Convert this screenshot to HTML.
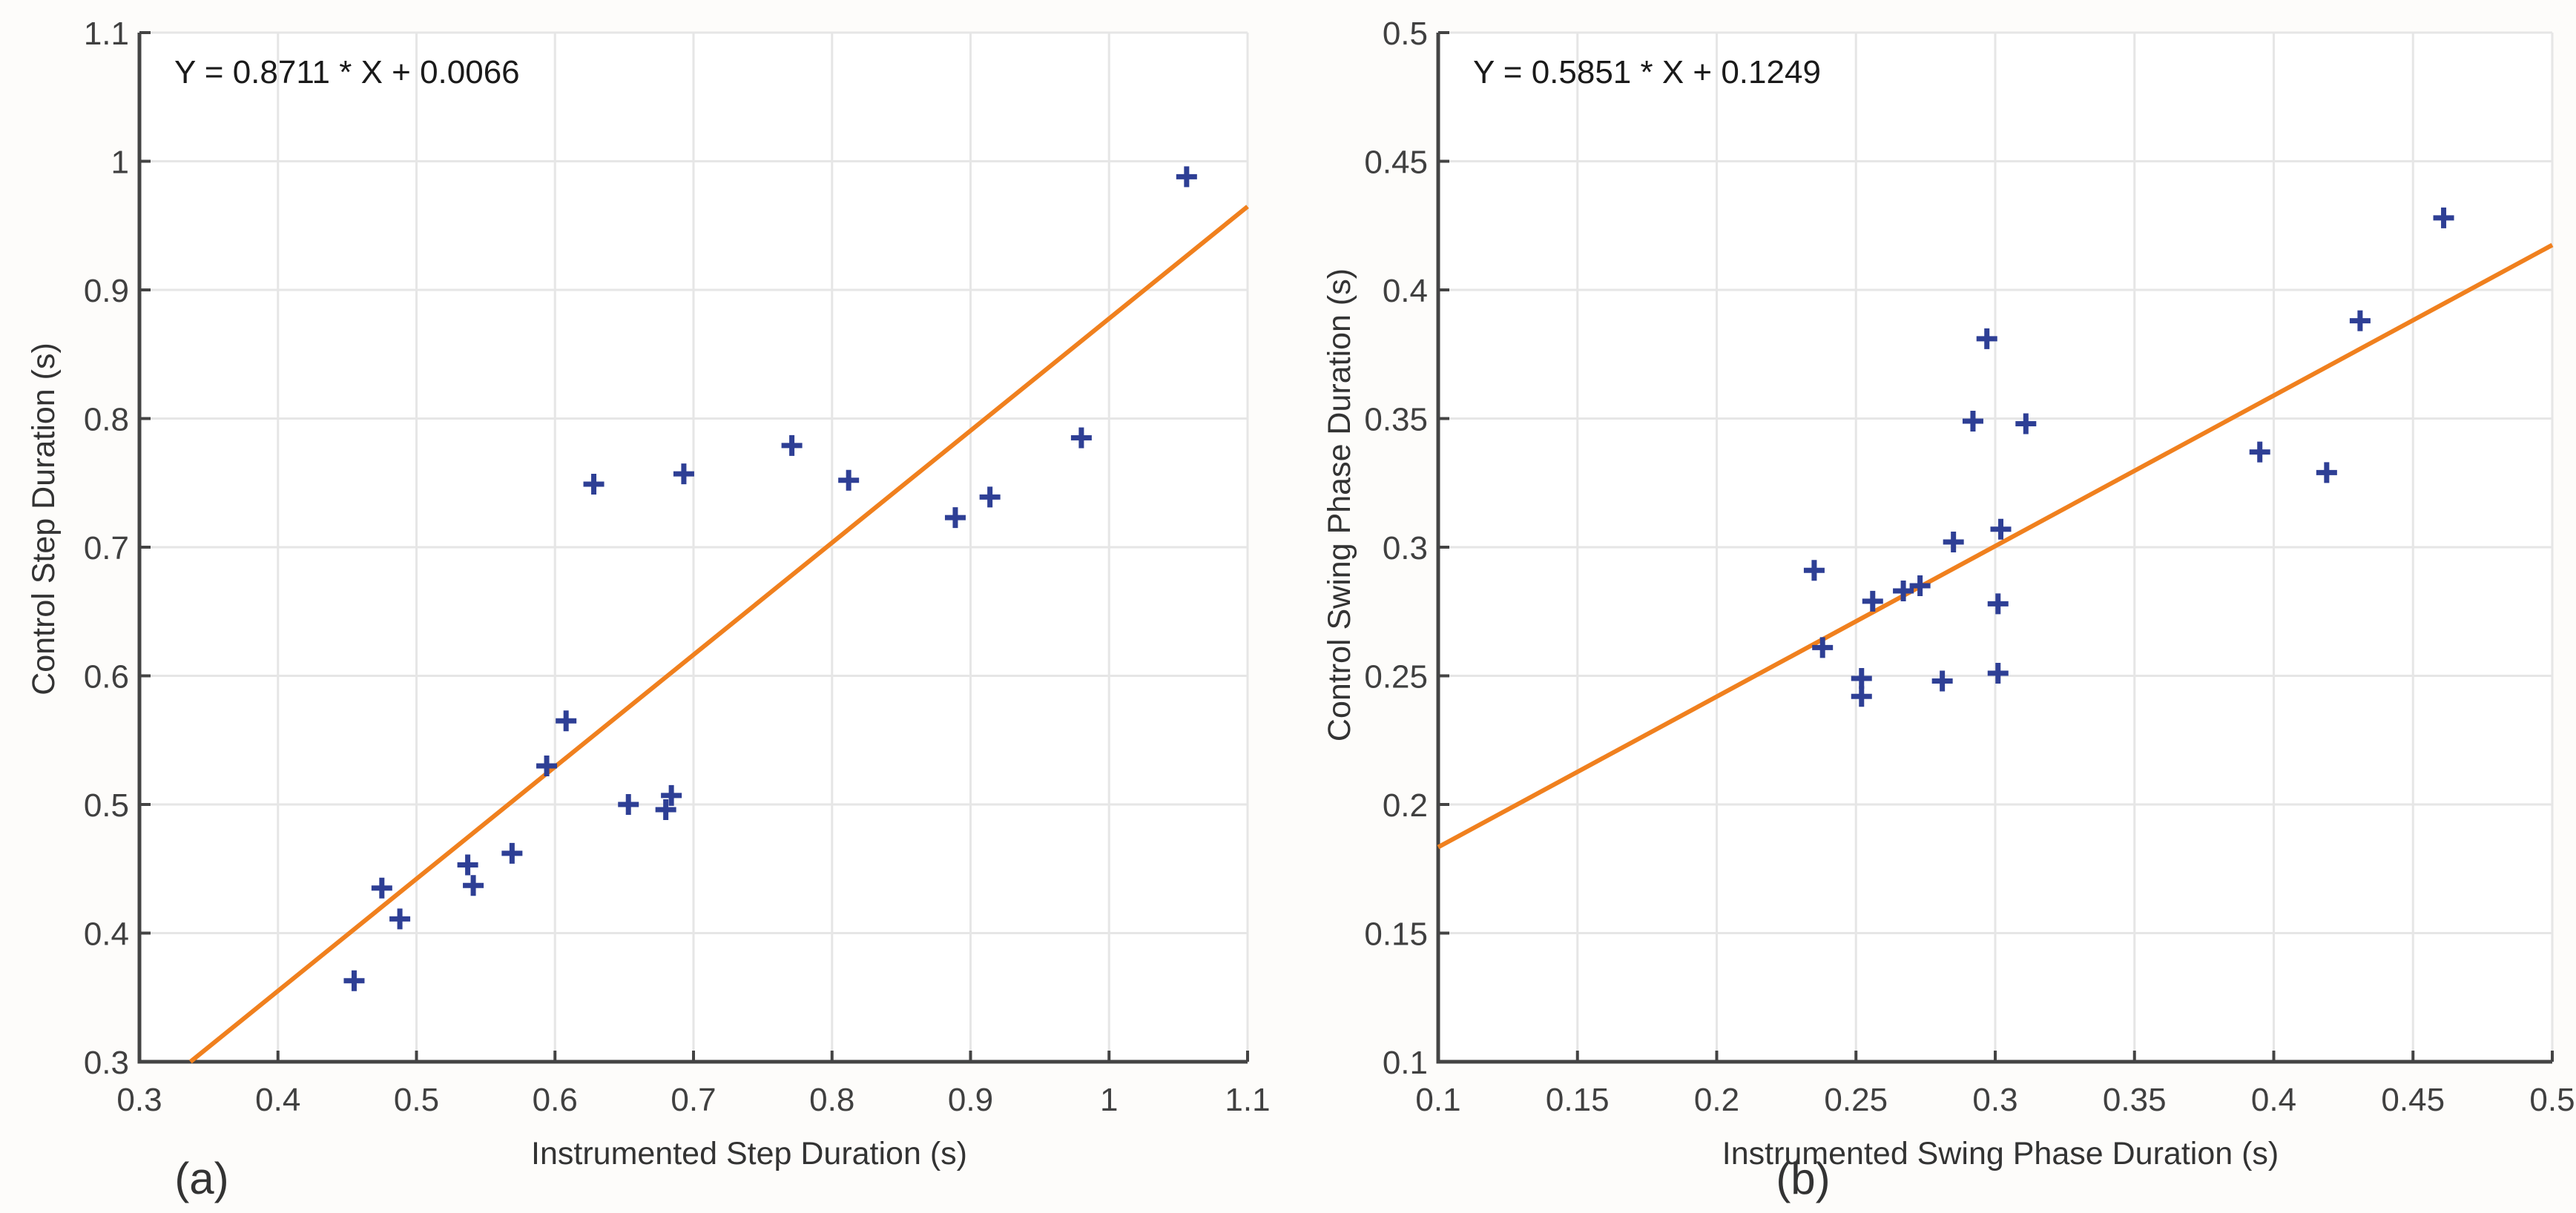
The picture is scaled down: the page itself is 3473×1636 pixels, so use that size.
<!DOCTYPE html>
<html><head><meta charset="utf-8"><style>
html,body{margin:0;padding:0;background:#fdfcfa;}
svg{display:block;font-family:"Liberation Sans",sans-serif;}
</style></head><body>
<svg id="fig" width="3473" height="1636" viewBox="0 0 3473 1636" xmlns="http://www.w3.org/2000/svg">
<rect width="3473" height="1636" fill="#fdfcfa"/>
</svg>
<script>
// Chart (a) data
const aXTicks = [0.3,0.4,0.5,0.6,0.7,0.8,0.9,1,1.1];
const aYTicks = [0.3,0.4,0.5,0.6,0.7,0.8,0.9,1,1.1];
const aX = [0.455,0.475,0.488,0.537,0.541,0.569,0.594,0.608,0.628,0.653,0.680,0.684,0.693,0.771,0.812,0.889,0.914,0.980,1.056];
const aY = [0.363,0.435,0.411,0.453,0.437,0.462,0.530,0.565,0.749,0.500,0.496,0.507,0.757,0.779,0.752,0.723,0.739,0.785,0.988];
const aFit = [0.8711, 0.0066];
// Chart (b) data
const bXTicks = [0.1,0.15,0.2,0.25,0.3,0.35,0.4,0.45,0.5];
const bYTicks = [0.1,0.15,0.2,0.25,0.3,0.35,0.4,0.45,0.5];
const bX = [0.235,0.238,0.252,0.252,0.256,0.267,0.273,0.281,0.285,0.292,0.297,0.301,0.301,0.302,0.311,0.395,0.419,0.431,0.461];
const bY = [0.291,0.261,0.249,0.242,0.279,0.283,0.285,0.248,0.302,0.349,0.381,0.278,0.251,0.307,0.348,0.337,0.329,0.388,0.428];
const bFit = [0.5851, 0.1249];

const NS='http://www.w3.org/2000/svg';
const svg=document.getElementById('fig');
function mk(tag,attrs,parent){const e=document.createElementNS(NS,tag);for(const k in attrs)e.setAttribute(k,attrs[k]);(parent||svg).appendChild(e);return e;}

function drawChart(cfg){
  const g=mk('g',{});
  
  
  const L=cfg.left,R=cfg.right,T=44,B=1432;
  const xmin=cfg.xt[0],xmax=cfg.xt[cfg.xt.length-1],ymin=cfg.yt[0],ymax=cfg.yt[cfg.yt.length-1];
  const sx=v=>L+(v-xmin)/(xmax-xmin)*(R-L);
  const sy=v=>B-(v-ymin)/(ymax-ymin)*(B-T);
  const bg=mk('rect',{x:L,y:T,width:R-L,height:B-T,fill:'#ffffff'},g);
  
  
  cfg.xt.forEach(v=>{
    const gl=mk('line',{x1:sx(v),x2:sx(v),y1:T,y2:B,stroke:'#e6e6e6','stroke-width':3},g);
    
    
    const tk=mk('line',{x1:sx(v),x2:sx(v),y1:B,y2:B-15,stroke:'#444','stroke-width':4},g);
    
    
    const t=mk('text',{x:sx(v),y:B+66,'font-size':44,fill:'#404040','text-anchor':'middle'},g);
    t.textContent=String(v);
    
    
  });
  cfg.yt.forEach(v=>{
    const gl=mk('line',{x1:L,x2:R,y1:sy(v),y2:sy(v),stroke:'#e6e6e6','stroke-width':3},g);
    
    
    const tk=mk('line',{x1:L,x2:L+15,y1:sy(v),y2:sy(v),stroke:'#444','stroke-width':4},g);
    
    
    const t=mk('text',{x:L-14,y:sy(v)+16,'font-size':44,fill:'#404040','text-anchor':'end'},g);
    t.textContent=String(v);
    
    
  });
  const ax=mk('path',{d:`M${L},${T} L${L},${B} L${R},${B}`,fill:'none',stroke:'#444','stroke-width':5},g);
  
  
  const f=cfg.fit;
  let x1=xmin,y1=f[0]*x1+f[1]; if(y1<ymin){x1=(ymin-f[1])/f[0];y1=ymin;}
  let x2=xmax,y2=f[0]*x2+f[1]; if(y2>ymax){x2=(ymax-f[1])/f[0];y2=ymax;}
  const fl=mk('line',{x1:sx(x1),y1:sy(y1),x2:sx(x2),y2:sy(y2),stroke:'#f0801e','stroke-width':6},g);
  
  
  cfg.px.forEach((v,i)=>{
    const cx=sx(v),cy=sy(cfg.py[i]);
    const p=mk('path',{d:`M${cx-14},${cy} L${cx+14},${cy} M${cx},${cy-14} L${cx},${cy+14}`,stroke:'#2e3f95','stroke-width':7},g);
    
    
  });
  const eq=mk('text',{x:L+47,y:112,'font-size':44,fill:'#1a1a1a'},g);
  eq.textContent=cfg.eq;
  
  
  const xl=mk('text',{x:cfg.xlx,y:1570,'font-size':43,fill:'#333','text-anchor':'middle'},g);
  xl.textContent=cfg.xl;
  
  
  const yl=mk('text',{x:0,y:0,'font-size':43,fill:'#333','text-anchor':'middle',transform:`translate(${cfg.ylx},${cfg.yly}) rotate(-90)`},g);
  yl.textContent=cfg.yl;
  
  
  const pl=mk('text',{x:cfg.plx,y:1610,'font-size':60,fill:'#333','text-anchor':'middle'},g);
  pl.textContent=cfg.pl;
  
  
}
drawChart({name:'chart-a',left:188,right:1682,xt:aXTicks,yt:aYTicks,px:aX,py:aY,fit:aFit,
  eq:'Y = 0.8711 * X + 0.0066',xl:'Instrumented Step Duration (s)',xlx:1010,
  yl:'Control Step Duration (s)',ylx:73,yly:700,pl:'(a)',plx:272});
drawChart({name:'chart-b',left:1939,right:3441,xt:bXTicks,yt:bYTicks,px:bX,py:bY,fit:bFit,
  eq:'Y = 0.5851 * X + 0.1249',xl:'Instrumented Swing Phase Duration (s)',xlx:2697,
  yl:'Control Swing Phase Duration (s)',ylx:1820,yly:681,pl:'(b)',plx:2431});
</script>
</body></html>
